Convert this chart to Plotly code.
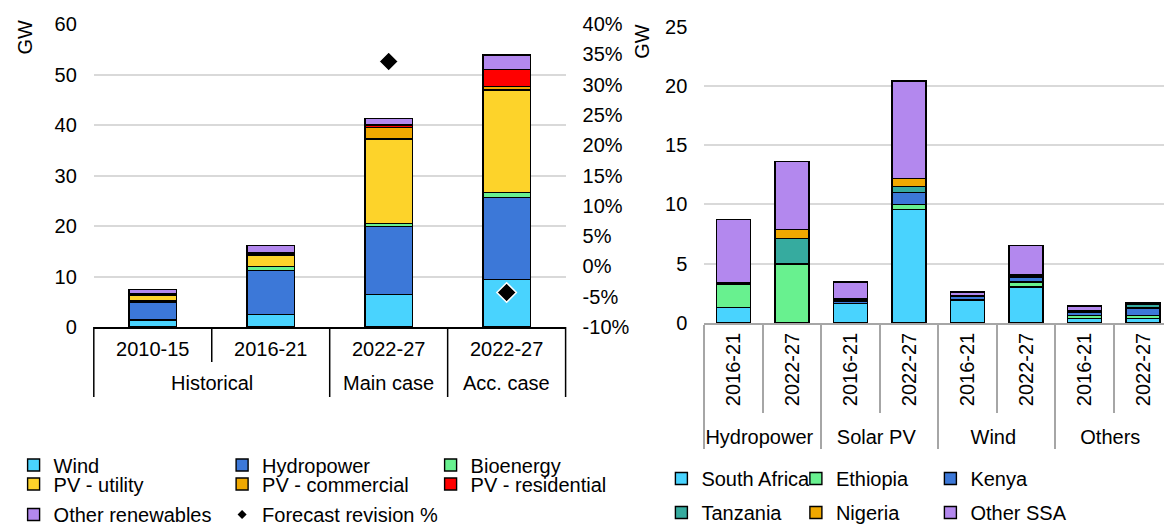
import plotly.graph_objects as go

W, H = 1164, 525
FONT = "Liberation Sans, Arial, sans-serif"
FS = 20


def px_x(p):
    return p / W


def px_y(p):
    return 1 - p / H


# ---------------- Left chart: renewable capacity additions by technology ----------------
left_groups = ["Historical", "Historical", "Main case", "Acc. case"]
left_periods = ["2010-15", "2016-21", "2022-27", "2022-27"]

wind = [1.4, 2.5, 6.4, 9.4]
hydropower = [3.4, 8.7, 13.5, 16.3]
bioenergy = [0.35, 0.75, 0.6, 0.9]
pv_utility = [1.15, 2.25, 16.7, 20.3]
pv_commercial = [0.15, 0.25, 2.3, 0.7]
pv_residential = [0.05, 0.35, 0.5, 3.4]
other_renewables = [0.9, 1.3, 1.3, 2.9]

revision_groups = ["Main case", "Acc. case"]
revision_periods = ["2022-27", "2022-27"]
forecast_revision_pct = [33.8, -4.3]

left_gw_ticks = [0, 10, 20, 30, 40, 50, 60]
pct_ticks = [-10, -5, 0, 5, 10, 15, 20, 25, 30, 35, 40]
pct_labels = ["-10%", "-5%", "0%", "5%", "10%", "15%", "20%", "25%", "30%", "35%", "40%"]

# ---------------- Right chart: additions by country ----------------
right_groups = ["Hydropower", "Hydropower", "Solar PV", "Solar PV",
                "Wind", "Wind", "Others", "Others"]
right_periods = ["2016-21", "2022-27", "2016-21", "2022-27",
                 "2016-21", "2022-27", "2016-21", "2022-27"]

south_africa = [1.32, 0.0, 1.66, 9.55, 1.94, 3.04, 0.36, 0.36]
ethiopia = [1.97, 4.95, 0.0, 0.45, 0.05, 0.42, 0.29, 0.29]
kenya = [0.03, 0.05, 0.15, 1.0, 0.3, 0.42, 0.28, 0.6]
tanzania = [0.02, 2.1, 0.1, 0.5, 0.02, 0.1, 0.05, 0.34]
nigeria = [0.02, 0.8, 0.1, 0.7, 0.02, 0.07, 0.02, 0.08]
other_ssa = [5.37, 5.7, 1.46, 8.2, 0.3, 2.47, 0.42, 0.08]

right_gw_ticks = [0, 5, 10, 15, 20, 25]

C_CYAN = "#49d3fe"
C_HYDRO = "#3c78d8"
C_GREEN = "#68f18f"
C_YELLOW = "#fdd32a"
C_ORANGE = "#f0a800"
C_RED = "#ff0000"
C_PURPLE = "#b388ee"
C_TEAL = "#36ab9f"

# unique category keys for the left axis (two periods share the same label)
left_keys = [g + " | " + p for g, p in zip(left_groups, left_periods)]
revision_keys = [g + " | " + p for g, p in zip(revision_groups, revision_periods)]

# last entry of each legend row gets room for its full text
ROW_END = ("Bioenergy", "PV - residential", "Forecast revision %", "Kenya", "Other SSA")

fig = go.Figure()

left_series = [
    ("Wind", wind, C_CYAN, "legend"),
    ("Hydropower", hydropower, C_HYDRO, "legend"),
    ("Bioenergy", bioenergy, C_GREEN, "legend"),
    ("PV - utility", pv_utility, C_YELLOW, "legend2"),
    ("PV - commercial", pv_commercial, C_ORANGE, "legend2"),
    ("PV - residential", pv_residential, C_RED, "legend2"),
    ("Other renewables", other_renewables, C_PURPLE, "legend3"),
]
for name, vals, col, leg in left_series:
    fig.add_trace(go.Bar(
        x=left_keys, y=vals, name=name,
        marker=dict(color=col, line=dict(color="#000000", width=1.4)),
        width=0.4, xaxis="x", yaxis="y", legend=leg,
        legendwidth=(200 if name in ROW_END else None),
    ))

# forecast revision markers on the secondary (percent) axis
fig.add_trace(go.Scatter(
    x=revision_keys, y=forecast_revision_pct,
    mode="markers", name="Forecast revision %", showlegend=False,
    marker=dict(symbol="diamond", size=15, color="#000000",
                line=dict(color="#ffffff", width=1.5)),
    xaxis="x", yaxis="y2",
))
# legend entry with a smaller glyph
fig.add_trace(go.Scatter(
    x=[None], y=[None], mode="markers", name="Forecast revision %",
    marker=dict(symbol="diamond", size=7, color="#000000"),
    xaxis="x", yaxis="y2", legend="legend3", legendwidth=200,
))

right_series = [
    ("South Africa", south_africa, C_CYAN, "legend4"),
    ("Ethiopia", ethiopia, C_GREEN, "legend4"),
    ("Kenya", kenya, C_HYDRO, "legend4"),
    ("Tanzania", tanzania, C_TEAL, "legend5"),
    ("Nigeria", nigeria, C_ORANGE, "legend5"),
    ("Other SSA", other_ssa, C_PURPLE, "legend5"),
]
for name, vals, col, leg in right_series:
    fig.add_trace(go.Bar(
        x=[right_groups, right_periods], y=vals, name=name,
        marker=dict(color=col, line=dict(color="#000000", width=1.4)),
        width=0.58, xaxis="x3", yaxis="y3", legend=leg,
        legendwidth=(140 if name in ROW_END else None),
    ))

grid = "#d9d9d9"
axis_font = dict(family=FONT, size=FS, color="#000000")

# left chart geometry (pixels)
L_X0, L_X1, L_Y0, L_Y1 = 93.8, 565.6, 24, 327
L_TICK_BOTTOM, L_DIV_BOTTOM, L_GROUP_Y = 362, 397, 383
# right chart geometry (pixels); last category runs past the page edge
R_X0, R_Y0, R_Y1 = 704.3, 26.5, 323
R_CAT = 58.5
r_hi = 7.5 - ((R_X0 + 8 * R_CAT) - W) / R_CAT

# separators and group labels under the left category axis
n_left = len(left_keys)
shapes = []
annotations = []
for i in range(n_left + 1):
    starts_group = i == 0 or i == n_left or left_groups[i] != left_groups[i - 1]
    bottom = L_DIV_BOTTOM if starts_group else L_TICK_BOTTOM
    shapes.append(dict(
        type="line", xref="x domain", yref="paper",
        x0=i / n_left, x1=i / n_left, y0=px_y(L_Y1), y1=px_y(bottom),
        line=dict(color="#000000", width=1.5),
    ))
seen = []
for g in left_groups:
    if g not in seen:
        seen.append(g)
for g in seen:
    idx = [i for i, gg in enumerate(left_groups) if gg == g]
    annotations.append(dict(
        text=g, x=sum(idx) / len(idx), xref="x", y=px_y(L_GROUP_Y), yref="paper",
        xanchor="center", yanchor="middle", showarrow=False, font=axis_font,
    ))

annotations += [
    dict(text="GW", x=px_x(25), y=px_y(37.5), xref="paper", yref="paper",
         xanchor="center", yanchor="middle",
         showarrow=False, textangle=-90, font=axis_font),
    dict(text="GW", x=px_x(642), y=px_y(41.7), xref="paper", yref="paper",
         xanchor="center", yanchor="middle",
         showarrow=False, textangle=-90, font=axis_font),
]


def legend_cfg(x_px, top_px, entry):
    return dict(
        orientation="h", x=px_x(x_px), y=px_y(top_px), xanchor="left", yanchor="top",
        entrywidth=entry, entrywidthmode="pixels", traceorder="normal",
        font=dict(family=FONT, size=FS, color="#000000"),
        bgcolor="rgba(0,0,0,0)", borderwidth=0, itemclick=False,
    )


fig.update_layout(
    width=W, height=H, autosize=False,
    margin=dict(l=0, r=0, t=0, b=0, autoexpand=False),
    paper_bgcolor="#ffffff", plot_bgcolor="#ffffff",
    barmode="stack",
    font=dict(family=FONT, size=FS, color="#000000"),
    xaxis=dict(
        type="category", categoryorder="array", categoryarray=left_keys,
        tickvals=left_keys, ticktext=left_periods,
        domain=[px_x(L_X0), px_x(L_X1)], anchor="y",
        range=[-0.5, n_left - 0.5], showline=True, linecolor="#000000", linewidth=1.5,
        ticks="", tickfont=axis_font, ticklabelstandoff=3,
        showgrid=False, zeroline=False,
    ),
    yaxis=dict(
        domain=[px_y(L_Y1), px_y(L_Y0)], anchor="x", range=[0, 60],
        tickvals=left_gw_ticks, showgrid=True, gridcolor=grid, gridwidth=1.5,
        zeroline=False, showline=False, ticks="", tickfont=axis_font,
        ticklabelstandoff=16,
    ),
    yaxis2=dict(
        overlaying="y", side="right", anchor="x", range=[-10, 40],
        tickvals=pct_ticks, ticktext=pct_labels, showgrid=False, zeroline=False,
        showline=False, ticks="", tickfont=axis_font, ticklabelstandoff=16,
    ),
    xaxis3=dict(
        type="multicategory", domain=[px_x(R_X0), 1.0], anchor="y3",
        range=[-0.5, r_hi], showline=True, linecolor="#a6a6a6", linewidth=1.5,
        ticks="outside", tickson="boundaries", ticklen=88, tickwidth=1.5,
        tickcolor="#a6a6a6", showdividers=True, dividercolor="#a6a6a6",
        dividerwidth=1.5, tickangle=-90, tickfont=axis_font,
        showgrid=False, zeroline=False,
    ),
    yaxis3=dict(
        domain=[px_y(R_Y1), px_y(R_Y0)], anchor="x3", range=[0, 25],
        tickvals=right_gw_ticks, showgrid=True, gridcolor=grid, gridwidth=1.5,
        zeroline=False, showline=False, ticks="", tickfont=axis_font,
        ticklabelstandoff=16,
    ),
    legend=legend_cfg(13.6, 445.5, 163.5),
    legend2=legend_cfg(13.6, 464.5, 163.5),
    legend3=legend_cfg(13.6, 495.0, 163.5),
    legend4=legend_cfg(661.4, 459.0, 89.5),
    legend5=legend_cfg(661.4, 493.0, 89.5),
    shapes=shapes,
    annotations=annotations,
)

fig.write_html("out.html")
